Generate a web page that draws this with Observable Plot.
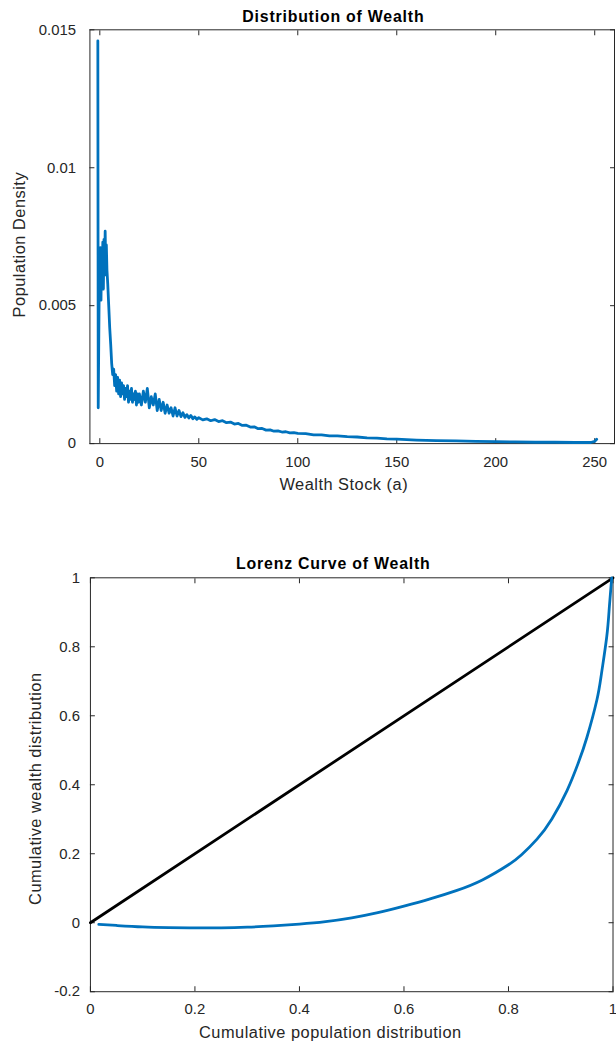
<!DOCTYPE html>
<html><head><meta charset="utf-8">
<script src="https://cdn.jsdelivr.net/npm/d3@7"></script>
<script src="https://cdn.jsdelivr.net/npm/@observablehq/plot@0.6"></script>
<style>
html,body{margin:0;padding:0;background:#fff;overflow:hidden;width:616px;height:1053px}
#chart svg{display:block}
</style></head><body><div id="chart"></div>
<script>
// ---------- Panel 1: Distribution of Wealth ----------
const wealthStock = [-1.0,-0.8,-0.5,-0.2,0.0,0.3,0.6,0.9,1.2,1.5,1.8,2.1,2.4,2.7,3.0,3.3,3.6,
  4.0,4.5,5.0,5.5,6.0,6.5,7.0,7.5,8.0,8.5,9.0,9.5,10.0,10.5,11.0,11.5,12.0,12.5,13.0,13.5,14.0,14.5,
  15.0,15.5,16.0,16.5,17.0,17.5,18.0,18.5,19.0,19.5,20,21,22,23,24,25,26,27,28,29,30,31,32,33,34,35,
  36,37,38,39,40,41,42,43,44,45,46,47,48,49,50,52,54,56,58,60,62,64,66,68,70,72,74,76,78,80,82,84,86,
  88,90,92,94,96,98,100,104,108,112,116,120,125,130,135,140,145,150,160,170,180,190,200,210,220,230,
  240,248,250,251];
const popDensity = [0.0146,0.0013,0.0040,0.0066,0.0058,0.0071,0.0052,0.0070,0.0060,0.0073,0.0056,0.0074,
  0.0061,0.0077,0.0064,0.0072,0.0063,
  0.0058,0.0050,0.0042,0.0036,0.0029,0.0025,0.0027,0.0021,0.0025,0.0019,0.0024,0.0018,0.0023,0.0017,
  0.0022,0.0018,0.0021,0.0016,0.0020,0.0017,0.0021,0.0015,0.0019,0.0016,0.0020,0.0015,0.0018,0.0016,
  0.0019,0.0014,0.0018,0.0015,0.0018,0.0014,0.0019,0.0015,0.0020,0.0013,0.0017,0.0014,0.0018,0.0012,
  0.0016,0.0012,0.0015,0.0011,0.0014,0.0011,0.0013,0.0010,0.0013,0.0010,0.0012,0.00098,0.00112,0.00095,
  0.00105,0.00093,0.00102,0.00090,0.00097,0.00088,0.00094,0.00086,0.00090,0.00083,0.00087,0.00080,
  0.00083,0.00076,0.00078,0.00071,0.00073,0.00066,0.00067,0.00060,0.00061,0.00054,0.00055,0.00049,
  0.00050,0.00045,0.00046,0.00042,0.00043,0.00039,0.00040,0.00037,0.00036,0.00032,0.00032,0.00028,
  0.00028,0.00025,0.00024,0.00021,0.00020,0.00017,0.00016,0.00013,0.00011,0.00010,0.00008,0.00007,
  0.00006,0.00005,0.00005,0.00004,0.00004,0.00008,0.00016];
const xTicks1 = [0,50,100,150,200,250];
const xTickLabels1 = ["0","50","100","150","200","250"];
const yTicks1 = [0,0.005,0.01,0.015];
const yTickLabels1 = ["0","0.005","0.01","0.015"];

// ---------- Panel 2: Lorenz Curve of Wealth ----------
const cumPop = [0.016,0.05,0.1,0.15,0.2,0.25,0.3,0.35,0.4,0.45,0.5,0.55,0.6,0.65,0.7,0.75,0.8,0.825,
  0.855,0.883,0.912,0.934,0.950,0.969,0.978,0.988,0.993,0.9975];
const cumWealth = [-0.005,-0.008,-0.012,-0.014,-0.015,-0.015,-0.013,-0.009,-0.004,0.003,0.014,0.029,
  0.048,0.069,0.093,0.124,0.168,0.197,0.243,0.301,0.383,0.465,0.537,0.645,0.723,0.829,0.916,1.0];
const equalityX = [0,1];
const equalityY = [0,1];
const xTicks2 = [0,0.2,0.4,0.6,0.8,1];
const xTickLabels2 = ["0","0.2","0.4","0.6","0.8","1"];
const yTicks2 = [-0.2,0,0.2,0.4,0.6,0.8,1];
const yTickLabels2 = ["-0.2","0","0.2","0.4","0.6","0.8","1"];

// ---------- rendering ----------
const FONT = '"Liberation Sans", Arial, Helvetica, sans-serif';
const AX = "#262626";
const BLUE = "#0072BD";
const lab = (ticks, labels) => d => labels[ticks.findIndex(t => Math.abs(t - d) < 1e-9)];
const blank = () => "";

const densityData = wealthStock.map((a, i) => ({a, g: popDensity[i]}));
const lorenzData = cumPop.map((p, i) => ({p, w: cumWealth[i]}));
const eqData = equalityX.map((p, i) => ({p, w: equalityY[i]}));

function axesMarks(xt, xl, yt, yl, xPad, yPad) {
  return [
    Plot.frame({stroke: AX, strokeWidth: 1}),
    Plot.axisX(xt, {anchor: "bottom", tickSize: -5, tickPadding: xPad, tickFormat: lab(xt, xl), label: null, fontSize: 15}),
    Plot.axisX(xt, {anchor: "top", tickSize: -5, tickPadding: 0, tickFormat: blank, label: null}),
    Plot.axisY(yt, {anchor: "left", tickSize: -5, tickPadding: yPad, tickFormat: lab(yt, yl), label: null, fontSize: 15}),
    Plot.axisY(yt, {anchor: "right", tickSize: -5, tickPadding: 0, tickFormat: blank, label: null})
  ];
}

const p1 = Plot.plot({
  width: 620, height: 520,
  marginTop: 29.5, marginBottom: 74, marginLeft: 90, marginRight: 2,
  x: {domain: [-5, 260]},
  y: {domain: [0, 0.015]},
  style: {fontFamily: FONT, fontSize: "15px", color: AX, background: "white", overflow: "visible"},
  marks: [
    ...axesMarks(xTicks1, xTickLabels1, yTicks1, yTickLabels1, 18.35, 19),
    Plot.line(densityData, {x: "a", y: "g", stroke: BLUE, strokeWidth: 2.8, strokeLinejoin: "round", strokeLinecap: "round"}),
    Plot.text(["Distribution of Wealth"], {frameAnchor: "top", lineAnchor: "bottom", dy: -8, dx: -19, fontSize: 16, fontWeight: "bold", fill: "#000"}),
    Plot.text(["Wealth Stock (a)"], {frameAnchor: "bottom", lineAnchor: "bottom", dy: 46.5, dx: -8.5, fontSize: 16.5, fill: AX}),
    Plot.text(["Population Density"], {frameAnchor: "left", textAnchor: "middle", lineAnchor: "bottom", rotate: -90, dx: -65, dy: 8, fontSize: 16.5, fill: AX})
  ]
});

const p2 = Plot.plot({
  width: 620, height: 533,
  marginTop: 60.7, marginBottom: 55.7, marginLeft: 90.5, marginRight: 3.5,
  x: {domain: [0, 1]},
  y: {domain: [-0.2, 1]},
  style: {fontFamily: FONT, fontSize: "15px", color: AX, background: "white", overflow: "visible"},
  marks: [
    ...axesMarks(xTicks2, xTickLabels2, yTicks2, yTickLabels2, 17, 15.5),
    Plot.line(eqData, {x: "p", y: "w", stroke: "#000", strokeWidth: 2.8}),
    Plot.line(lorenzData, {x: "p", y: "w", stroke: BLUE, strokeWidth: 2.8, strokeLinejoin: "round", curve: "natural"}),
    Plot.text(["Lorenz Curve of Wealth"], {frameAnchor: "top", lineAnchor: "bottom", dy: -8.5, dx: -18.5, fontSize: 16, fontWeight: "bold", fill: "#000"}),
    Plot.text(["Cumulative population distribution"], {frameAnchor: "bottom", lineAnchor: "bottom", dy: 46.7, dx: -21.5, fontSize: 16.5, fill: AX}),
    Plot.text(["Cumulative wealth distribution"], {frameAnchor: "left", textAnchor: "middle", lineAnchor: "bottom", rotate: -90, dx: -49.5, dy: 4, fontSize: 16.5, fill: AX})
  ]
});

for (const svg of [p1, p2]) {
  d3.select(svg).selectAll('g[aria-label="text"]').each(function() {
    const bold = this.getAttribute("font-weight") === "bold";
    d3.select(this).style("letter-spacing", bold ? "0.8px" : "0.5px");
  });
  document.getElementById("chart").appendChild(svg);
}
</script>
</body></html>
